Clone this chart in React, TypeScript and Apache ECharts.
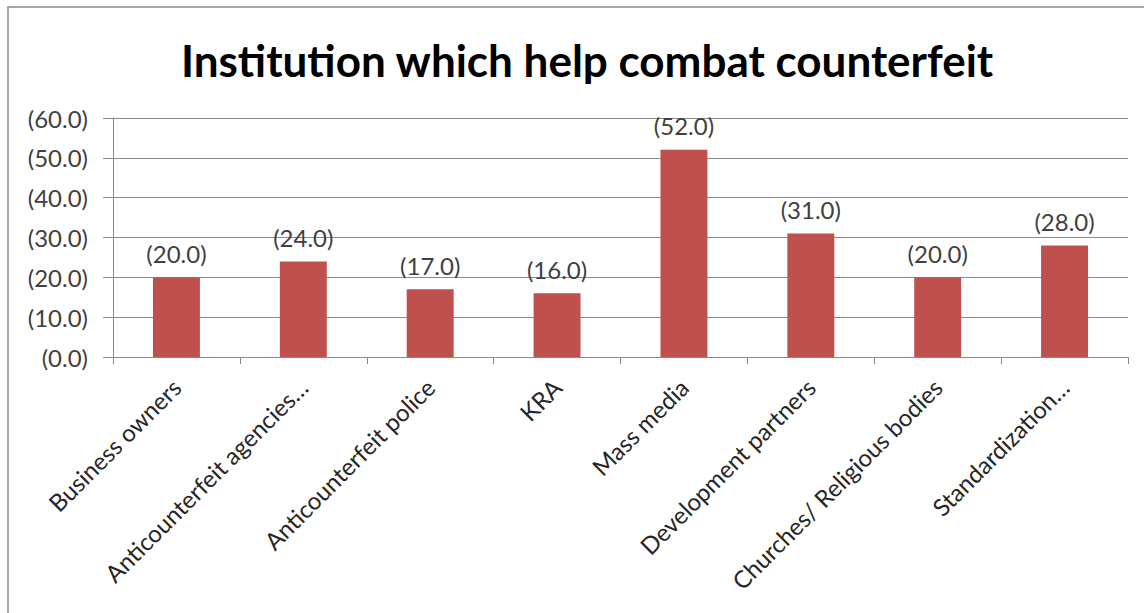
import React, { useEffect, useRef } from "react";
import * as echarts from "echarts";

const categories = [
  "Business owners",
  "Anticounterfeit agencies…",
  "Anticounterfeit police",
  "KRA",
  "Mass media",
  "Development partners",
  "Churches/ Religious bodies",
  "Standardization…",
];
const values = [20, 24, 17, 16, 52, 31, 20, 28];
const yTicks = [0, 10, 20, 30, 40, 50, 60];

const fmt = (v: number) => `(${v.toFixed(1)})`;

export default function App() {
  const ref = useRef<HTMLDivElement>(null);

  useEffect(() => {
    document.body.style.margin = "0";
    const chart = echarts.init(ref.current!, null, { renderer: "svg" });
    chart.setOption({
      animation: false,
      backgroundColor: "#ffffff",
      title: {
        text: "Institution which help combat counterfeit",
        left: 176,
        top: 33,
        textStyle: {
          fontFamily: "Lato",
          fontWeight: "bold",
          fontSize: 44,
          color: "#000000",
        },
      },
      graphic: [
        {
          type: "rect",
          shape: { x: 8, y: 7, width: 1160, height: 640 },
          style: { fill: "none", stroke: "#8c8c8c", lineWidth: 1.5 },
          silent: true,
        },
      ],
      grid: { left: 113, right: 16, top: 118, bottom: 256 },
      xAxis: {
        type: "category",
        data: categories,
        axisLine: { lineStyle: { color: "#8a8a8a" } },
        axisTick: { show: true, alignWithLabel: false, length: 7, lineStyle: { color: "#8a8a8a" } },
        axisLabel: {
          interval: 0,
          rotate: 45,
          margin: 26,
          fontFamily: "Lato",
          fontSize: 24,
          color: "#262626",
        },
      },
      yAxis: {
        type: "value",
        min: yTicks[0],
        max: yTicks[yTicks.length - 1],
        interval: 10,
        axisLine: { show: true, lineStyle: { color: "#8a8a8a" } },
        axisTick: { show: true, length: 10, lineStyle: { color: "#8a8a8a" } },
        splitLine: { lineStyle: { color: "#8a8a8a" } },
        axisLabel: {
          formatter: (v: number) => fmt(v),
          margin: 25,
          fontFamily: "Lato",
          fontSize: 24,
          color: "#404040",
        },
      },
      series: [
        {
          type: "bar",
          data: values,
          barWidth: "37%",
          itemStyle: { color: "#c0504d" },
          label: {
            show: true,
            position: "top",
            distance: 12,
            formatter: (p: any) => fmt(p.value),
            fontFamily: "Lato",
            fontSize: 24,
            color: "#404040",
          },
        },
      ],
    });
    return () => chart.dispose();
  }, []);

  return <div ref={ref} style={{ width: 1144, height: 613 }} />;
}
